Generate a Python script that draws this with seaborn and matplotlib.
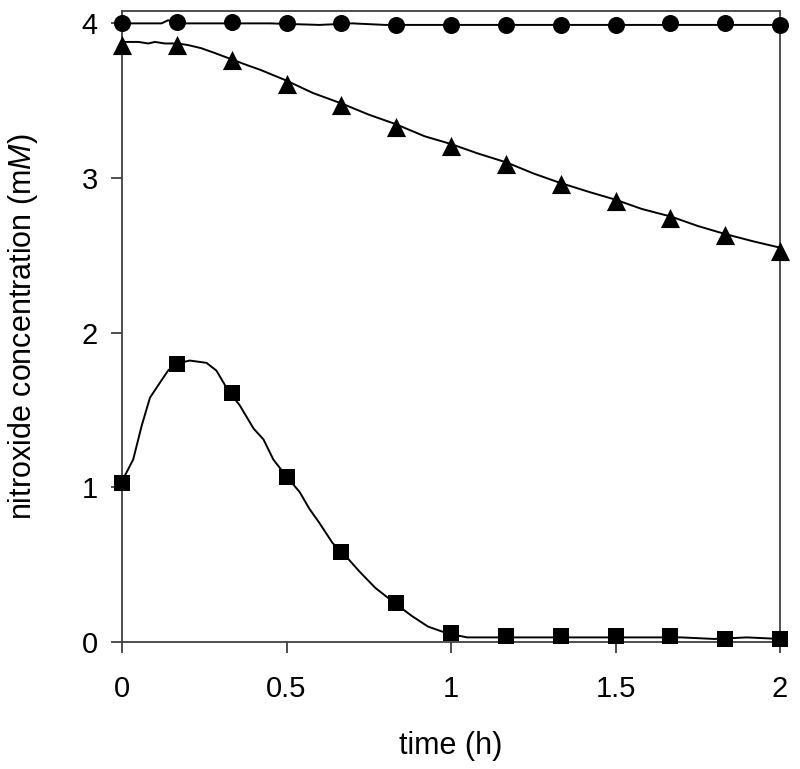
import numpy as np
import pandas as pd
import matplotlib
matplotlib.use("Agg")
import matplotlib.pyplot as plt
import seaborn as sns

sns.set_style("ticks")
plt.rcParams['font.family'] = ['Liberation Sans', 'DejaVu Sans']
plt.rcParams['mathtext.fontset'] = 'custom'
plt.rcParams['mathtext.rm'] = 'Liberation Sans'
plt.rcParams['mathtext.it'] = 'Liberation Sans:italic'
plt.rcParams['text.color'] = 'black'
plt.rcParams['axes.labelcolor'] = 'black'
plt.rcParams['xtick.labelcolor'] = 'black'
plt.rcParams['ytick.labelcolor'] = 'black'

# marker data (every 10 min)
marker_t = [0, 0.167, 0.333, 0.5, 0.667, 0.833, 1.0, 1.167, 1.333, 1.5, 1.667, 1.833, 2.0]
circle_vals = [4.00, 4.01, 4.01, 4.00, 4.00, 3.99, 3.99, 3.99, 3.99, 3.99, 4.00, 4.00, 3.99]
triangle_vals = [3.86, 3.86, 3.76, 3.61, 3.47, 3.33, 3.21, 3.09, 2.96, 2.85, 2.74, 2.63, 2.53]
square_vals = [1.03, 1.80, 1.61, 1.07, 0.58, 0.25, 0.06, 0.04, 0.04, 0.04, 0.04, 0.02, 0.02]

# continuous traces
circle_line_t = [0, 0.12, 0.14, 0.16, 0.19, 0.3, 0.45, 0.6, 0.7, 0.8, 1.0, 1.2, 1.4, 1.6, 1.8, 2.0]
circle_line_v = [4.00, 4.00, 4.02, 4.01, 4.00, 4.00, 4.00, 3.99, 4.00, 3.99, 3.99, 3.99, 3.99, 3.99, 3.99, 3.99]

tri_line_t = [0, 0.05, 0.08, 0.1, 0.13, 0.17, 0.2, 0.24, 0.28, 0.33, 0.38, 0.42, 0.5, 0.58, 0.67,
              0.75, 0.83, 0.92, 1.0, 1.08, 1.17, 1.25, 1.33, 1.42, 1.5, 1.58, 1.67, 1.75, 1.83, 1.92, 2.0]
tri_line_v = [3.88, 3.88, 3.87, 3.88, 3.87, 3.87, 3.86, 3.84, 3.81, 3.77, 3.73, 3.70, 3.63, 3.55, 3.48,
              3.41, 3.35, 3.27, 3.22, 3.16, 3.10, 3.03, 2.97, 2.91, 2.86, 2.80, 2.75, 2.69, 2.64, 2.59, 2.55]

sq_line_t = [0, 0.034, 0.06, 0.085, 0.11, 0.14, 0.166, 0.206, 0.257, 0.287, 0.323, 0.358, 0.40, 0.43,
             0.46, 0.50, 0.54, 0.57, 0.60, 0.64, 0.67, 0.72, 0.77, 0.83, 0.88, 0.93, 0.97, 1.0, 1.05,
             1.1, 1.2, 1.3, 1.4, 1.5, 1.6, 1.7, 1.8, 1.9, 2.0]
sq_line_v = [1.04, 1.18, 1.40, 1.58, 1.66, 1.755, 1.80, 1.82, 1.805, 1.755, 1.625, 1.53, 1.38, 1.31,
             1.18, 1.07, 0.97, 0.86, 0.77, 0.64, 0.58, 0.46, 0.35, 0.25, 0.17, 0.10, 0.07, 0.05, 0.03,
             0.03, 0.03, 0.03, 0.03, 0.03, 0.03, 0.03, 0.02, 0.03, 0.02]

x_ticks = [0, 0.5, 1, 1.5, 2]
x_ticklabels = ["0", "0.5", "1", "1.5", "2"]
y_ticks = [0, 1, 2, 3, 4]
y_ticklabels = ["0", "1", "2", "3", "4"]

fig = plt.figure(figsize=(8, 7.69), dpi=100)
ax = fig.add_axes([0.1525, 0.1651, 0.8225, 0.8206])

for t, v in [(circle_line_t, circle_line_v), (tri_line_t, tri_line_v), (sq_line_t, sq_line_v)]:
    sns.lineplot(x=t, y=v, ax=ax, color="black", linewidth=1.4, estimator=None, sort=False)

for vals, m, s in [(circle_vals, "o", 150), (triangle_vals, "^", 190), (square_vals, "s", 130)]:
    sns.scatterplot(x=marker_t, y=vals, ax=ax, marker=m, s=s, color="black",
                    edgecolor="black", linewidth=0, clip_on=False, zorder=5)

ax.set_xlim(0, 2)
ax.set_ylim(0, 4.08)
ax.set_xticks(x_ticks)
ax.set_xticklabels(x_ticklabels)
ax.set_yticks(y_ticks)
ax.set_yticklabels(y_ticklabels)
ax.tick_params(axis="both", direction="out", length=8, width=1.3, labelsize=21,
               color="#404040", labelcolor="black")
ax.tick_params(axis="x", pad=16)
ax.tick_params(axis="y", pad=9.5)
for sp in ax.spines.values():
    sp.set_visible(True)
    sp.set_linewidth(1.3)
    sp.set_color("#404040")

ax.set_xlabel("time (h)", fontsize=22, labelpad=20, color="black")
ax.set_ylabel(r"nitroxide concentration (m$\mathit{M}$)", fontsize=22, labelpad=30, color="black")

fig.savefig("out.png", dpi=100)
